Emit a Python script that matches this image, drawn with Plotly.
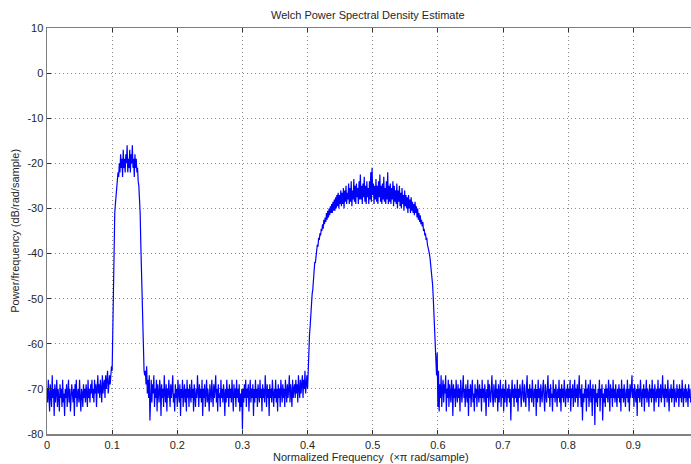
import numpy as np
import plotly.graph_objects as go

# Frequency bin spacing (normalized, x pi rad/sample)
bin_step = 0.001

# Start frequency of each segment (band edges)
seg_starts = [0.000, 0.100, 0.151, 0.402, 0.599]

# PSD values (dB/rad/sample), segment by segment
floor_a = [
    -70, -73, -68, -72, -75, -69, -71, -74, -67, -72,
    -70, -76, -69, -73, -71, -68, -74, -70, -72, -75,
    -69, -72, -70, -74, -68, -73, -71, -76, -70, -72,
    -69, -74, -71, -68, -73, -70, -75, -72, -69, -71,
    -73, -70, -76, -69, -72, -68, -74, -71, -70, -73,
    -68, -72, -75, -70, -71, -74, -69, -72, -70, -73,
    -69, -71, -74, -68, -72, -70, -73, -69, -71, -68,
    -72, -70, -73, -68, -71, -69, -74, -70, -67, -71,
    -69, -72, -68, -70, -73, -67, -71, -69, -68, -72,
    -67, -70, -68, -66, -71, -68, -67, -69, -66, -65,
]
band1 = [
    -66, -55, -44, -36, -31, -29, -27, -25, -24, -22,
    -23, -20, -22, -18, -21, -19, -23, -17, -21, -19,
    -22, -18, -20, -16, -22, -19, -21, -17, -22, -18,
    -20, -16, -21, -19, -23, -18, -21, -19, -22, -21,
    -24, -25, -28, -31, -38, -45, -52, -58, -63, -66,
    -67,
]
floor_b = [
    -66, -69, -65, -71, -68, -72, -67, -77, -70, -68,
    -73, -69, -71, -67, -74, -70, -72, -68, -75, -69,
    -71, -73, -68, -70, -76, -69, -72, -70, -74, -67,
    -71, -73, -69, -75, -70, -72, -68, -71, -74, -69,
    -72, -70, -67, -73, -71, -75, -69, -72, -70, -74,
    -68, -71, -73, -69, -76, -70, -72, -68, -74, -71,
    -69, -73, -70, -75, -68, -72, -70, -74, -69, -71,
    -73, -68, -72, -70, -75, -69, -71, -74, -70, -72,
    -67, -71, -74, -69, -72, -70, -73, -68, -76, -70,
    -72, -69, -74, -71, -68, -73, -70, -72, -75, -69,
    -71, -73, -68, -70, -74, -69, -72, -70, -67, -73,
    -70, -75, -69, -72, -71, -74, -68, -72, -70, -73,
    -69, -71, -76, -70, -73, -68, -72, -70, -74, -69,
    -72, -70, -73, -68, -71, -75, -69, -72, -70, -74,
    -68, -72, -70, -73, -69, -75, -71, -74, -70, -79,
    -70, -73, -69, -72, -68, -74, -70, -72, -69, -75,
    -71, -68, -73, -70, -72, -69, -76, -70, -73, -68,
    -72, -70, -74, -69, -71, -73, -68, -72, -70, -75,
    -69, -72, -70, -73, -67, -71, -74, -69, -72, -70,
    -76, -69, -72, -70, -73, -68, -71, -74, -70, -72,
    -68, -73, -70, -75, -69, -72, -70, -74, -68, -71,
    -73, -69, -72, -70, -74, -68, -71, -73, -69, -72,
    -70, -67, -73, -69, -71, -74, -68, -72, -70, -69,
    -72, -68, -71, -69, -73, -67, -70, -72, -68, -71,
    -69, -67, -72, -68, -70, -66, -71, -68, -67, -70,
    -64,
]
band2 = [
    -63, -58, -56, -53, -52, -49, -48, -45, -45, -42,
    -42, -40, -40, -38, -38.5, -36.5, -37, -35.5, -36, -34.5,
    -35, -33.5, -34.5, -32.5, -33.5, -32, -33, -31, -32.5, -30.5,
    -32, -30, -31.5, -29.5, -31, -29, -31, -28.5, -30.5, -28,
    -30.5, -27.5, -30, -27, -29.5, -26.5, -30, -27, -29, -26,
    -29.5, -26.5, -29, -25.5, -30, -26, -28.5, -25, -29, -26.5,
    -28, -24.5, -29, -25.5, -28.5, -24, -29.5, -26, -28, -23.5,
    -28.5, -25, -29, -24.5, -27.5, -25.5, -29, -24, -28, -22.5,
    -28, -25, -29, -24.5, -27.5, -23, -28.5, -25, -29, -24,
    -27.5, -25.5, -29, -24, -28, -22, -28.5, -21, -27, -24.5,
    -29, -25, -28, -23.5, -28.5, -25, -29, -24, -27.5, -22.5,
    -28.5, -25, -29, -24.5, -28, -23, -28.5, -25.5, -29, -24,
    -28, -22, -29, -25, -28.5, -24.5, -29, -25.5, -28, -24,
    -29.5, -25, -28.5, -26, -29, -24.5, -30, -26, -28.5, -25,
    -29.5, -26.5, -30, -25.5, -29, -27, -30.5, -26, -29.5, -27,
    -30, -27.5, -31, -27, -30, -28, -31, -27.5, -30.5, -28.5,
    -31, -29, -31.5, -28.5, -31, -29.5, -32, -30, -32.5, -31,
    -33, -31.5, -33.5, -32.5, -34, -33, -35, -34.5, -36, -35.5,
    -37, -36.5, -38, -38.5, -39.5, -40, -41, -42.5, -44, -45,
    -47, -50, -53, -57, -60, -64, -67,
]
floor_c = [
    -62, -74, -66, -75, -69, -72, -67, -74, -70, -68,
    -73, -69, -71, -67, -75, -70, -72, -68, -74, -69,
    -71, -73, -68, -70, -76, -69, -72, -70, -74, -68,
    -71, -73, -69, -72, -70, -75, -68, -71, -73, -70,
    -67, -72, -70, -74, -69, -71, -73, -68, -76, -70,
    -72, -69, -74, -70, -68, -73, -71, -75, -69, -72,
    -70, -74, -68, -71, -73, -69, -72, -70, -75, -68,
    -72, -70, -73, -69, -71, -76, -70, -72, -68, -74,
    -69, -71, -73, -70, -67, -72, -74, -69, -71, -73,
    -68, -72, -70, -75, -69, -73, -71, -68, -74, -70,
    -72, -69, -75, -70, -73, -68, -71, -74, -70, -72,
    -69, -73, -70, -77, -71, -68, -72, -70, -74, -69,
    -72, -70, -73, -68, -75, -70, -72, -69, -71, -74,
    -70, -68, -72, -73, -69, -71, -74, -70, -67, -72,
    -70, -75, -69, -72, -70, -73, -68, -71, -74, -70,
    -72, -69, -76, -70, -73, -68, -72, -70, -74, -69,
    -71, -73, -70, -68, -72, -75, -69, -71, -73, -70,
    -67, -72, -70, -74, -69, -72, -71, -75, -68, -72,
    -70, -73, -69, -71, -74, -70, -72, -68, -73, -70,
    -75, -69, -72, -70, -73, -68, -71, -74, -70, -72,
    -69, -73, -70, -72, -68, -75, -70, -72, -69, -74,
    -71, -68, -73, -70, -72, -69, -74, -70, -67, -72,
    -70, -74, -69, -77, -71, -73, -70, -72, -68, -75,
    -70, -72, -69, -74, -71, -68, -73, -70, -76, -69,
    -72, -70, -78, -69, -73, -71, -74, -70, -72, -68,
    -75, -70, -72, -69, -77, -71, -73, -70, -74, -69,
    -72, -70, -73, -68, -71, -75, -69, -72, -70, -74,
    -68, -72, -70, -73, -69, -71, -74, -70, -72, -69,
    -73, -70, -75, -68, -72, -70, -73, -69, -71, -74,
    -70, -72, -68, -73, -70, -75, -69, -72, -70, -67,
    -72, -70, -74, -69, -71, -73, -70, -76, -69, -72,
    -70, -73, -68, -71, -74, -70, -72, -69, -75, -70,
    -72, -68, -73, -70, -71, -74, -69, -72, -70, -73,
    -68, -72, -70, -75, -69, -71, -73, -70, -72, -68,
    -74, -70, -72, -69, -73, -71, -67, -72, -70, -74,
    -69, -72, -70, -73, -68, -71, -75, -70, -72, -69,
    -73, -70, -72, -68, -74, -70, -71, -73, -69, -72,
    -70, -74, -69, -72, -70, -73, -68, -71, -74, -70,
    -72, -69, -73, -70, -71, -74, -69, -72, -70, -73,
]

x_ticks = [0, 0.1, 0.2, 0.3, 0.4, 0.5, 0.6, 0.7, 0.8, 0.9]
x_tick_labels = ["0", "0.1", "0.2", "0.3", "0.4", "0.5", "0.6", "0.7", "0.8", "0.9"]
y_ticks = [10, 0, -10, -20, -30, -40, -50, -60, -70, -80]
y_tick_labels = ["10", "0", "-10", "-20", "-30", "-40", "-50", "-60", "-70", "-80"]

segments = [floor_a, band1, floor_b, band2, floor_c]
freq = np.concatenate([s0 + np.arange(len(seg)) * bin_step for s0, seg in zip(seg_starts, segments)])
psd = np.concatenate([np.asarray(seg, dtype=float) for seg in segments])

fig = go.Figure()
fig.add_trace(go.Scatter(
    x=freq, y=psd, mode="lines",
    line=dict(color="#0000ff", width=1.2),
    hoverinfo="skip", showlegend=False,
))

font_family = "Liberation Sans, Arial, sans-serif"
text_color = "#262626"

fig.update_layout(
    width=691, height=464,
    margin=dict(l=47, r=0, t=28, b=30, autoexpand=False),
    paper_bgcolor="white", plot_bgcolor="white",
    font=dict(family=font_family, size=11, color=text_color),
    showlegend=False,
    annotations=[
        dict(text="Welch Power Spectral Density Estimate", xref="paper", yref="paper",
             x=0.4985, y=1.032, xanchor="center", yanchor="middle", showarrow=False,
             font=dict(size=11, color=text_color)),
        dict(text="Normalized Frequency  (×π rad/sample)", xref="paper", yref="paper",
             x=0.503, y=-0.057, xanchor="center", yanchor="middle", showarrow=False,
             font=dict(size=11, color=text_color)),
        dict(text="Power/frequency (dB/rad/sample)", xref="paper", yref="paper",
             x=-0.050, y=0.5, xanchor="center", yanchor="middle", showarrow=False,
             textangle=-90, font=dict(size=11, color=text_color)),
    ],
)
fig.update_xaxes(
    range=[0, 0.9886], tickvals=x_ticks, ticktext=x_tick_labels, automargin=False,
    ticks="inside", ticklen=4, tickcolor="#303030",
    showline=True, linecolor="#808080", linewidth=1.5, mirror="ticks",
    showgrid=True, gridcolor="#8c8c8c", griddash="1px,3px", gridwidth=1,
    zeroline=False,
)
fig.update_yaxes(
    range=[-80, 10], tickvals=y_ticks, ticktext=y_tick_labels, automargin=False,
    ticks="inside", ticklen=4, tickcolor="#303030",
    showline=True, linecolor="#808080", linewidth=1.5, mirror=False,
    showgrid=True, gridcolor="#8c8c8c", griddash="1px,3px", gridwidth=1,
    zeroline=False,
)

fig.write_html(
    "out.html",
    config={"displayModeBar": False, "staticPlot": True},
    post_script="document.body.style.margin='0';document.body.style.overflow='hidden';",
)
